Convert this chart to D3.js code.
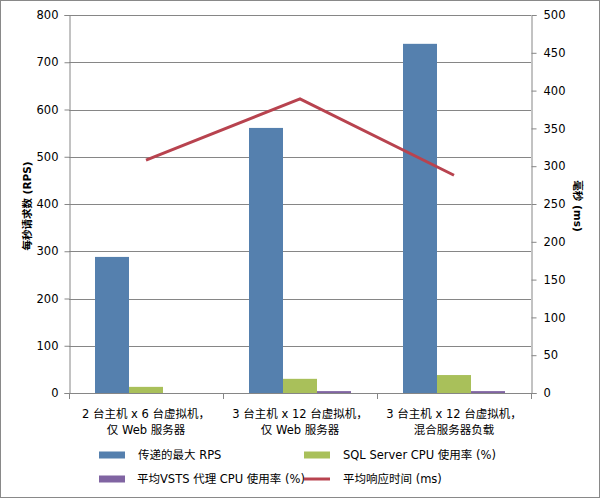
<!DOCTYPE html>
<html><head><meta charset="utf-8">
<script src="https://cdn.jsdelivr.net/npm/d3@7"></script>
<style>body{margin:0;background:#fff}svg{display:block}text{font-family:"DejaVu Sans","Noto Sans CJK SC",sans-serif;fill:#000}</style>
</head><body>
<script>
const categories = [["2 台主机 x 6 台虚拟机，","仅 Web 服务器"],["3 台主机 x 12 台虚拟机，","仅 Web 服务器"],["3 台主机 x 12 台虚拟机，","混合服务器负载"]];
const seriesNames = ["传递的最大 RPS","SQL Server CPU 使用率 (%)","平均VSTS 代理 CPU 使用率 (%)","平均响应时间 (ms)"];
const maxRps = [288, 561, 739];
const sqlCpu = [13, 30, 38];
const vstsCpu = [0, 4, 4];
const respTime = [308, 389, 288];
const leftTicks = [0,100,200,300,400,500,600,700,800];
const rightTicks = [0,50,100,150,200,250,300,350,400,450,500];
const colors = ["#5580AE","#A9C05A","#8064A2","#B8434F"];

const W=601,H=499;
const svg=d3.select("body").append("svg").attr("width",W).attr("height",H);
svg.append("rect").attr("x",0.5).attr("y",0.5).attr("width",W-2).attr("height",H-2).attr("fill","#fff").attr("stroke","#898989");
const L=69,R=531,T=15,B=393;
const x=d3.scaleBand().domain(d3.range(categories.length)).range([L,R]);
const xi=d3.scaleBand().domain([0,1,2]).range([26,x.bandwidth()-26]);
const yL=d3.scaleLinear().domain([0,800]).range([B,T]);
const yR=d3.scaleLinear().domain([0,500]).range([B,T]);
const g=svg.append("g");
g.selectAll("line.grid").data(leftTicks.slice(1)).join("line")
 .attr("x1",L).attr("x2",R).attr("y1",d=>Math.round(yL(d))+0.5).attr("y2",d=>Math.round(yL(d))+0.5)
 .attr("stroke","#868686");
const barSeries=[maxRps,sqlCpu,vstsCpu];
barSeries.forEach((s,si)=>{
  g.selectAll("rect.s"+si).data(s).join("rect")
   .attr("x",(d,i)=>x(i)+xi(si)).attr("width",xi.bandwidth())
   .attr("y",d=>yL(d)).attr("height",d=>B-yL(d)).attr("fill",colors[si]);
});
const font=s=>s.style("font-size","11.5px").style("font-family",'"DejaVu Sans",sans-serif');
const axL=svg.append("g").attr("transform",`translate(${L+0.5},0)`)
 .call(d3.axisLeft(yL).tickValues(leftTicks).tickSizeOuter(0).tickSize(5).tickPadding(6));
const axR=svg.append("g").attr("transform",`translate(${R+0.5},0)`)
 .call(d3.axisRight(yR).tickValues(rightTicks).tickSizeOuter(0).tickSize(5).tickPadding(7));
[axL,axR].forEach(a=>{a.select(".domain").attr("stroke","#868686");a.selectAll(".tick line").attr("stroke","#868686");a.selectAll("text").call(font).attr("fill","#000");});
const xa=svg.append("g");
xa.append("line").attr("x1",L).attr("x2",R).attr("y1",B+0.5).attr("y2",B+0.5).attr("stroke","#868686");
const bounds=[...d3.range(categories.length).map(i=>x(i)),R];
xa.selectAll("line.t").data(bounds).join("line").attr("x1",d=>Math.round(d)+0.5).attr("x2",d=>Math.round(d)+0.5)
 .attr("y1",B).attr("y2",B+6).attr("stroke","#868686");
const cl=xa.selectAll("text.c").data(categories).join("text").attr("text-anchor","middle")
 .attr("x",(d,i)=>x(i)+x.bandwidth()/2).attr("y",418).style("font-size","11.5px");
cl.selectAll("tspan").data(d=>d).join("tspan").attr("x",function(){return this.parentNode.getAttribute("x");})
 .attr("dy",(d,i)=>i?16:0).text(d=>d);
const line=d3.line().x((d,i)=>x(i)+x.bandwidth()/2).y(d=>yR(d));
svg.append("path").datum(respTime).attr("d",line).attr("fill","none").attr("stroke",colors[3]).attr("stroke-width",3);
svg.append("text").attr("transform",`translate(31,${(T+B)/2+2}) rotate(-90)`).attr("text-anchor","middle")
 .style("font-size","10.5px").style("font-weight","bold").text("每秒请求数 (RPS)");
svg.append("text").attr("transform",`translate(574,${(T+B)/2+2}) rotate(90)`).attr("text-anchor","middle")
 .style("font-size","10.5px").style("font-weight","bold").text("毫秒 (ms)");
const leg=[{x:99,y:455,i:0},{x:304,y:455,i:1},{x:99,y:479,i:2},{x:304,y:479,i:3}];
leg.forEach(l=>{
  if(l.i<3) svg.append("rect").attr("x",l.x).attr("y",l.y-3.5).attr("width",26).attr("height",7).attr("fill",colors[l.i]);
  else svg.append("line").attr("x1",l.x).attr("x2",l.x+26).attr("y1",l.y).attr("y2",l.y).attr("stroke",colors[3]).attr("stroke-width",3);
  svg.append("text").attr("x",l.x+(l.i===2?38:39)).attr("y",l.y+4).style("font-size","11.5px").text(seriesNames[l.i]);
});
</script>
</body></html>
